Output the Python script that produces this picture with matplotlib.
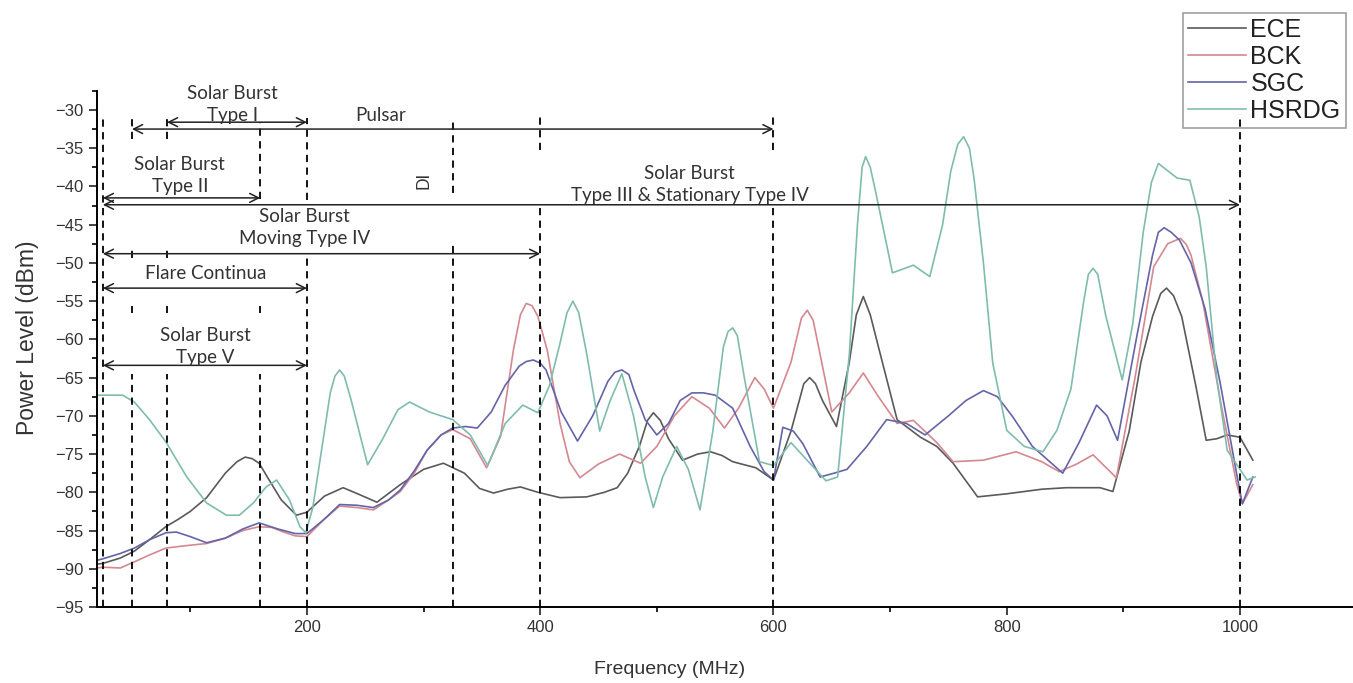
import matplotlib
matplotlib.use("Agg")
import matplotlib.pyplot as plt

# --- data ---
ece_freq = [20, 25, 40, 52, 65, 79, 90, 100, 114, 130, 140, 147, 153, 159, 168, 178, 191, 200, 215, 231,
            245, 260, 280, 300, 317, 335, 348, 360, 372, 383, 398, 417, 440, 455, 466, 475, 485, 492, 497,
            503, 510, 522, 535, 546, 556, 565, 585, 600, 615, 626, 631, 636, 642, 654, 665, 671, 677, 683,
            690, 706, 726, 740, 754, 775, 800, 830, 851, 880, 891, 905, 915, 925, 932, 937, 943, 950, 962,
            971, 980, 989, 1000, 1011]
ece_dbm = [-89.4, -89.3, -88.6, -87.7, -86.2, -84.5, -83.5, -82.5, -80.7, -77.5, -76, -75.4, -75.6, -76.2,
           -78.5, -81, -83, -82.6, -80.5, -79.4, -80.3, -81.3, -79, -77, -76.2, -77.5, -79.5, -80.1, -79.6,
           -79.3, -80, -80.7, -80.6, -80, -79.4, -77.5, -74, -70.6, -69.6, -70.6, -73, -75.8, -75, -74.7,
           -75.2, -76, -76.8, -78.4, -72, -65.8, -65, -65.8, -68, -71.4, -63, -56.8, -54.4, -56.8, -61,
           -70.5, -72.8, -74, -76.2, -80.6, -80.2, -79.6, -79.4, -79.4, -79.9, -72, -63, -57, -54, -53.3,
           -54.3, -57, -66, -73.2, -73, -72.5, -72.8, -75.8]

bck_freq = [20, 25, 40, 52, 65, 79, 95, 114, 130, 145, 159, 170, 180, 190, 200, 215, 228, 243, 257, 270,
            280, 292, 303, 315, 325, 340, 354, 366, 377, 383, 388, 393, 398, 406, 417, 425, 434, 450, 468,
            486, 500, 515, 530, 545, 558, 570, 584, 592, 600, 615, 624, 629, 634, 640, 650, 665, 677, 690,
            706, 720, 740, 754, 780, 808, 830, 845, 860, 874, 894, 910, 926, 938, 944, 949, 954, 958, 968,
            983, 997, 1002, 1011]
bck_dbm = [-89.9, -89.8, -89.9, -89.1, -88.2, -87.3, -87, -86.7, -86, -85, -84.5, -84.6, -85.2, -85.7,
           -85.8, -83.5, -81.8, -82, -82.3, -81, -79.9, -77.5, -74.5, -72.5, -71.8, -73, -76.8, -72.7,
           -61.4, -56.8, -55.3, -55.6, -57, -61.4, -71, -76, -78.1, -76.3, -75, -76.2, -74, -70, -67.5,
           -69, -71.6, -69, -65, -66.5, -69, -63, -57.2, -56.2, -57.5, -62, -69.5, -67, -64.4, -67.5, -71,
           -70.6, -73.5, -76, -75.8, -74.7, -76, -77.3, -76.3, -75.1, -78.1, -65, -50.5, -47.5, -47.1,
           -46.8, -47.6, -49, -55, -67.9, -78.8, -81.5, -79]

sgc_freq = [20, 25, 40, 52, 65, 79, 88, 100, 114, 130, 145, 159, 175, 190, 200, 215, 228, 243, 257, 270,
            280, 292, 303, 315, 325, 336, 346, 358, 370, 382, 388, 394, 400, 405, 418, 432, 445, 458, 464,
            470, 476, 480, 490, 500, 510, 520, 530, 540, 550, 565, 580, 592, 600, 608, 617, 625, 640, 652,
            663, 680, 697, 714, 730, 750, 765, 780, 792, 805, 822, 848, 862, 877, 886, 895, 912, 925, 930,
            935, 941, 948, 958, 970, 983, 997, 1002, 1011]
sgc_dbm = [-88.9, -88.7, -88, -87.3, -86.2, -85.3, -85.2, -85.8, -86.6, -86, -84.8, -84, -84.8, -85.4,
           -85.4, -83.5, -81.6, -81.7, -82, -81, -79.7, -77.2, -74.5, -72.5, -71.6, -71.4, -71.6, -69.5,
           -66, -63.5, -62.9, -62.7, -63.1, -64, -69.5, -73.3, -70, -65.5, -64.3, -64, -64.6, -66.5, -70.5,
           -72.5, -71, -68, -67, -67, -67.3, -69, -74, -77.3, -78.4, -71.5, -72, -73.6, -78, -77.5, -77,
           -74, -70.5, -71, -72.5, -70, -68, -66.7, -67.5, -70.1, -74, -77.5, -73.5, -68.6, -70, -73.2,
           -59.2, -49, -46, -45.4, -46, -47, -50, -56, -65.7, -77.5, -81.5, -78]

hsrdg_freq = [20, 25, 42, 52, 65, 79, 97, 114, 131, 142, 154, 165, 174, 185, 194, 199, 205, 212, 220, 224,
              228, 232, 238, 252, 265, 278, 288, 305, 325, 340, 355, 370, 385, 398, 408, 417, 423, 428, 433,
              440, 451, 460, 470, 480, 490, 497, 505, 517, 527, 537, 548, 557, 561, 565, 569, 575, 588, 600,
              615, 630, 645, 655, 665, 672, 676, 679, 683, 688, 702, 720, 734, 745, 752, 758, 763, 768, 772,
              780, 788, 800, 815, 831, 843, 855, 866, 870, 874, 878, 885, 899, 908, 917, 924, 930, 946, 957,
              965, 971, 980, 989, 1000, 1006, 1013]
hsrdg_dbm = [-67.3, -67.3, -67.3, -68.2, -70.5, -73.4, -78, -81.4, -83, -83, -81.4, -79.3, -78.4, -81,
             -84.5, -85.3, -82, -75, -67, -64.8, -64, -64.8, -68, -76.4, -73, -69.2, -68.2, -69.5, -70.5,
             -72.5, -76.5, -71, -68.6, -69.6, -66, -60.5, -56.5, -55, -56.5, -62, -72, -68, -64.5, -70,
             -78, -82, -78, -74, -77, -82.3, -72, -61, -59, -58.5, -59.5, -65, -76, -76.5, -73.5, -76,
             -78.5, -78, -62, -45, -37.5, -36.1, -37.5, -41, -51.3, -50.3, -51.8, -45, -38, -34.5, -33.5,
             -35, -39, -50, -63.1, -71.9, -74, -74.7, -71.9, -66.5, -55, -51.5, -50.7, -51.5, -57, -65.3,
             -58, -46, -39.5, -37, -38.9, -39.2, -44, -50.5, -65, -74.5, -77, -78.4, -78]

series = [("ECE", ece_freq, ece_dbm, "#5a5a5a"),
          ("BCK", bck_freq, bck_dbm, "#d48890"),
          ("SGC", sgc_freq, sgc_dbm, "#6464a8"),
          ("HSRDG", hsrdg_freq, hsrdg_dbm, "#80bcae")]

# band edges (MHz) and the pieces of each dashed marker that are visible
band_edges = {
    25: [(-95, -31)],
    50: [(-95, -64.5), (-56.6, -55.6), (-49.3, -48.2), (-33.8, -31)],
    80: [(-95, -64.5), (-56.6, -55.6), (-49.3, -48.2), (-33.8, -31)],
    160: [(-95, -64.5), (-56.6, -55.6), (-41.6, -31.6)],
    200: [(-95, -48.8), (-41.8, -31)],
    325: [(-95, -47.4), (-40.8, -31.6)],
    400: [(-95, -42.6), (-35.2, -30.8)],
    600: [(-95, -42.6), (-35.2, -30.8)],
    1000: [(-95, -30.5)],
}

# (label, start, end, arrow level, text x, text y)
bands = [
    ("Solar Burst\nType I", 80, 200, -31.6, 136, -29.3),
    ("Pulsar", 50, 600, -32.5, 263, -30.7),
    ("Solar Burst\nType II", 25, 160, -41.5, 91, -38.6),
    ("Solar Burst\nType III & Stationary Type IV", 25, 1000, -42.4, 528, -39.7),
    ("Solar Burst\nMoving Type IV", 25, 400, -48.8, 198, -45.4),
    ("Flare Continua", 25, 200, -53.3, 113, -51.4),
    ("Solar Burst\nType V", 25, 200, -63.4, 113, -60.9),
]

fig = plt.figure(figsize=(13.53, 6.83), dpi=100)
ax = fig.add_axes([0.0717, 0.1113, 0.931, 0.7557])

for name, f, v, c in series:
    ax.plot(f, v, color=c, lw=1.2, label=name)

for x, pieces in band_edges.items():
    for y0, y1 in pieces:
        ax.plot([x, x], [y0, y1], color="black", lw=1.3, ls=(0, (4, 3)), zorder=3)

for label, x0, x1, y, tx, ty in bands:
    ax.annotate("", xy=(x1, y), xytext=(x0, y),
                arrowprops=dict(arrowstyle="<->", color="#222222", lw=1.1,
                                shrinkA=0, shrinkB=0, mutation_scale=16))
    ax.text(tx, ty, label, ha="center", va="center", fontsize=13.5, family="Lato",
            color="#333333", linespacing=1.35)

ax.text(300, -39.2, "DI", rotation=90, ha="center", va="center", fontsize=12,
        family="Lato", color="#333333")

ax.set_xlim(20, 1100)
ax.set_ylim(-95, -27.5)
ax.set_xticks([200, 400, 600, 800, 1000])
ax.set_xticks([100, 300, 500, 700, 900, 1100], minor=True)
ax.set_yticks(list(range(-95, -29, 5)))
ax.set_yticks([v + 2.5 for v in range(-95, -29, 5)], minor=True)
ax.tick_params(axis="both", which="major", direction="out", length=6, width=1.2,
               labelsize=12, colors="#222222")
ax.tick_params(axis="both", which="minor", direction="out", length=3.5, width=1.2)
for lbl in ax.get_xticklabels() + ax.get_yticklabels():
    lbl.set_family("Liberation Sans")
    lbl.set_color("#333333")

ax.spines["top"].set_visible(False)
ax.spines["right"].set_visible(False)
ax.spines["left"].set_linewidth(1.4)
ax.spines["bottom"].set_linewidth(1.4)

fig.text(0.02, 0.505, "Power Level (dBm)", rotation=90, ha="center", va="center",
         fontsize=16.5, family="Liberation Sans", color="#333333")
fig.text(0.495, 0.02, "Frequency (MHz)", ha="center", va="center",
         fontsize=14, family="Liberation Sans", color="#333333")

leg = fig.legend(loc="upper left", bbox_to_anchor=(1183 / 1353, 1 - 13 / 683),
                 prop={"family": "Liberation Sans", "size": 18}, frameon=True, fancybox=False,
                 handlelength=2.3, handletextpad=0.2, labelspacing=0.12, borderpad=0.2,
                 borderaxespad=0)
leg.get_frame().set_facecolor("none")
leg.get_frame().set_edgecolor("#888888")
leg.get_frame().set_linewidth(1.2)
for t in leg.get_texts():
    t.set_color("#222222")

fig.savefig("out.png", dpi=100)
